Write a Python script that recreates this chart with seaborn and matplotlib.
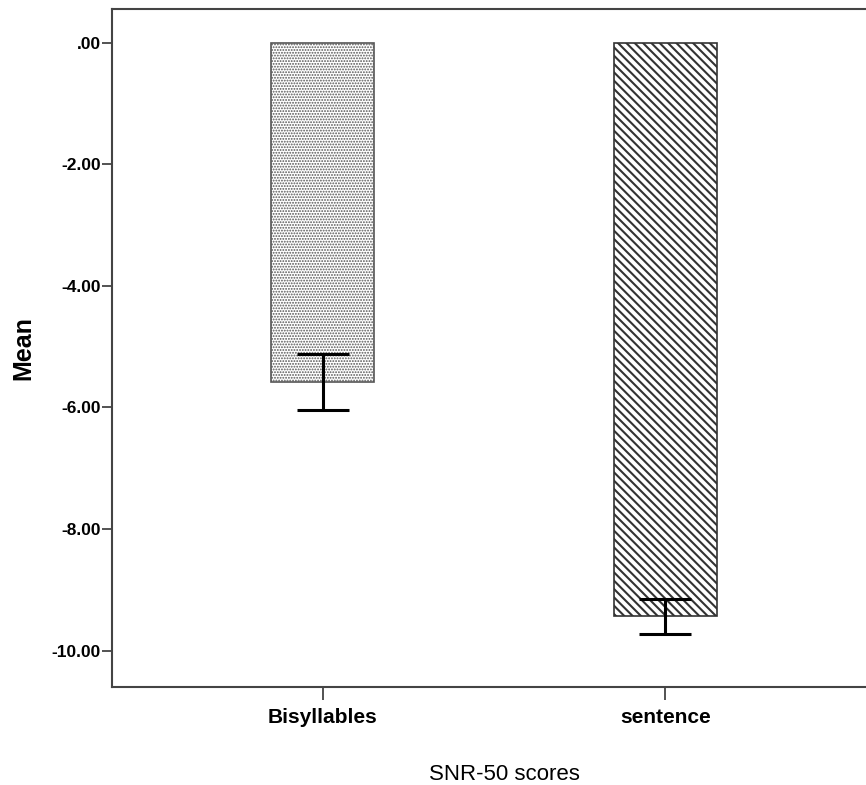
import matplotlib
matplotlib.use("Agg")
import matplotlib.pyplot as plt
import seaborn as sns
import pandas as pd
import numpy as np

# ---- data ----
categories = ["Bisyllables", "sentence"]
means = [-5.58, -9.44]
err_low = [-6.04, -9.73]
err_high = [-5.12, -9.15]
y_ticks = [0, -2, -4, -6, -8, -10]
y_tick_labels = [".00", "-2.00", "-4.00", "-6.00", "-8.00", "-10.00"]
x_title = "SNR-50 scores"
y_title = "Mean"
hatches = ["......", "\\\\\\\\"]

sns.set_theme(style="white")
plt.rcParams["font.family"] = ["Liberation Sans", "DejaVu Sans"]
plt.rcParams["hatch.linewidth"] = 1.0
plt.rcParams["text.color"] = "black"
plt.rcParams["axes.labelcolor"] = "black"
plt.rcParams["xtick.labelcolor"] = "black"
plt.rcParams["ytick.labelcolor"] = "black"

df = pd.DataFrame({"cat": categories, "mean": means})

fig = plt.figure(figsize=(8.66, 7.85), dpi=100)
ax = fig.add_axes([112/866, 1-687/785, (866-112)/866, (687-8.5)/785])

sns.barplot(data=df, x="cat", y="mean", order=categories, errorbar=None,
            width=0.3, color="white", edgecolor="#333333", linewidth=1.2, ax=ax)

for patch, h in zip(ax.patches, hatches):
    patch.set_hatch(h)
    patch.set_facecolor("white")
    if h.startswith("\\"):
        patch.set_edgecolor("#333333")
        if hasattr(patch, "set_hatch_linewidth"):
            patch.set_hatch_linewidth(1.5)
    else:
        patch.set_edgecolor("#555555")
        if hasattr(patch, "set_hatch_linewidth"):
            patch.set_hatch_linewidth(0.9)

xpos = np.arange(len(categories))
m = np.array(means)
lower = m - np.array(err_low)
upper = np.array(err_high) - m
ax.errorbar(xpos, m, yerr=[lower, upper], fmt="none", ecolor="black",
            elinewidth=2.2, capsize=19, capthick=2.2, zorder=5)

ax.set_xlim(-0.614, 1.585)
ax.set_ylim(-10.60, 0.56)
ax.set_yticks(y_ticks)
ax.set_yticklabels(y_tick_labels, fontsize=12.5, fontweight="bold", color="black")
ax.set_xticks(xpos)
ax.set_xticklabels(categories, fontsize=15, fontweight="bold", color="black")

for s in ["left", "bottom", "top"]:
    ax.spines[s].set_color("#444444")
    ax.spines[s].set_linewidth(1.5)
ax.spines["right"].set_visible(False)

ax.tick_params(axis="y", direction="out", length=7, width=1.3, color="#444444", pad=1, left=True)
ax.tick_params(axis="x", direction="out", length=9, width=1.3, color="#444444", pad=6, bottom=True)

ax.set_ylabel(y_title, fontsize=18, fontweight="bold", color="black")
ax.yaxis.set_label_coords(-0.102, 0.5)
ax.set_xlabel(x_title, fontsize=16, color="black")
ax.xaxis.set_label_coords(0.52, -0.114)

fig.savefig("out.png", dpi=100, facecolor="white")
